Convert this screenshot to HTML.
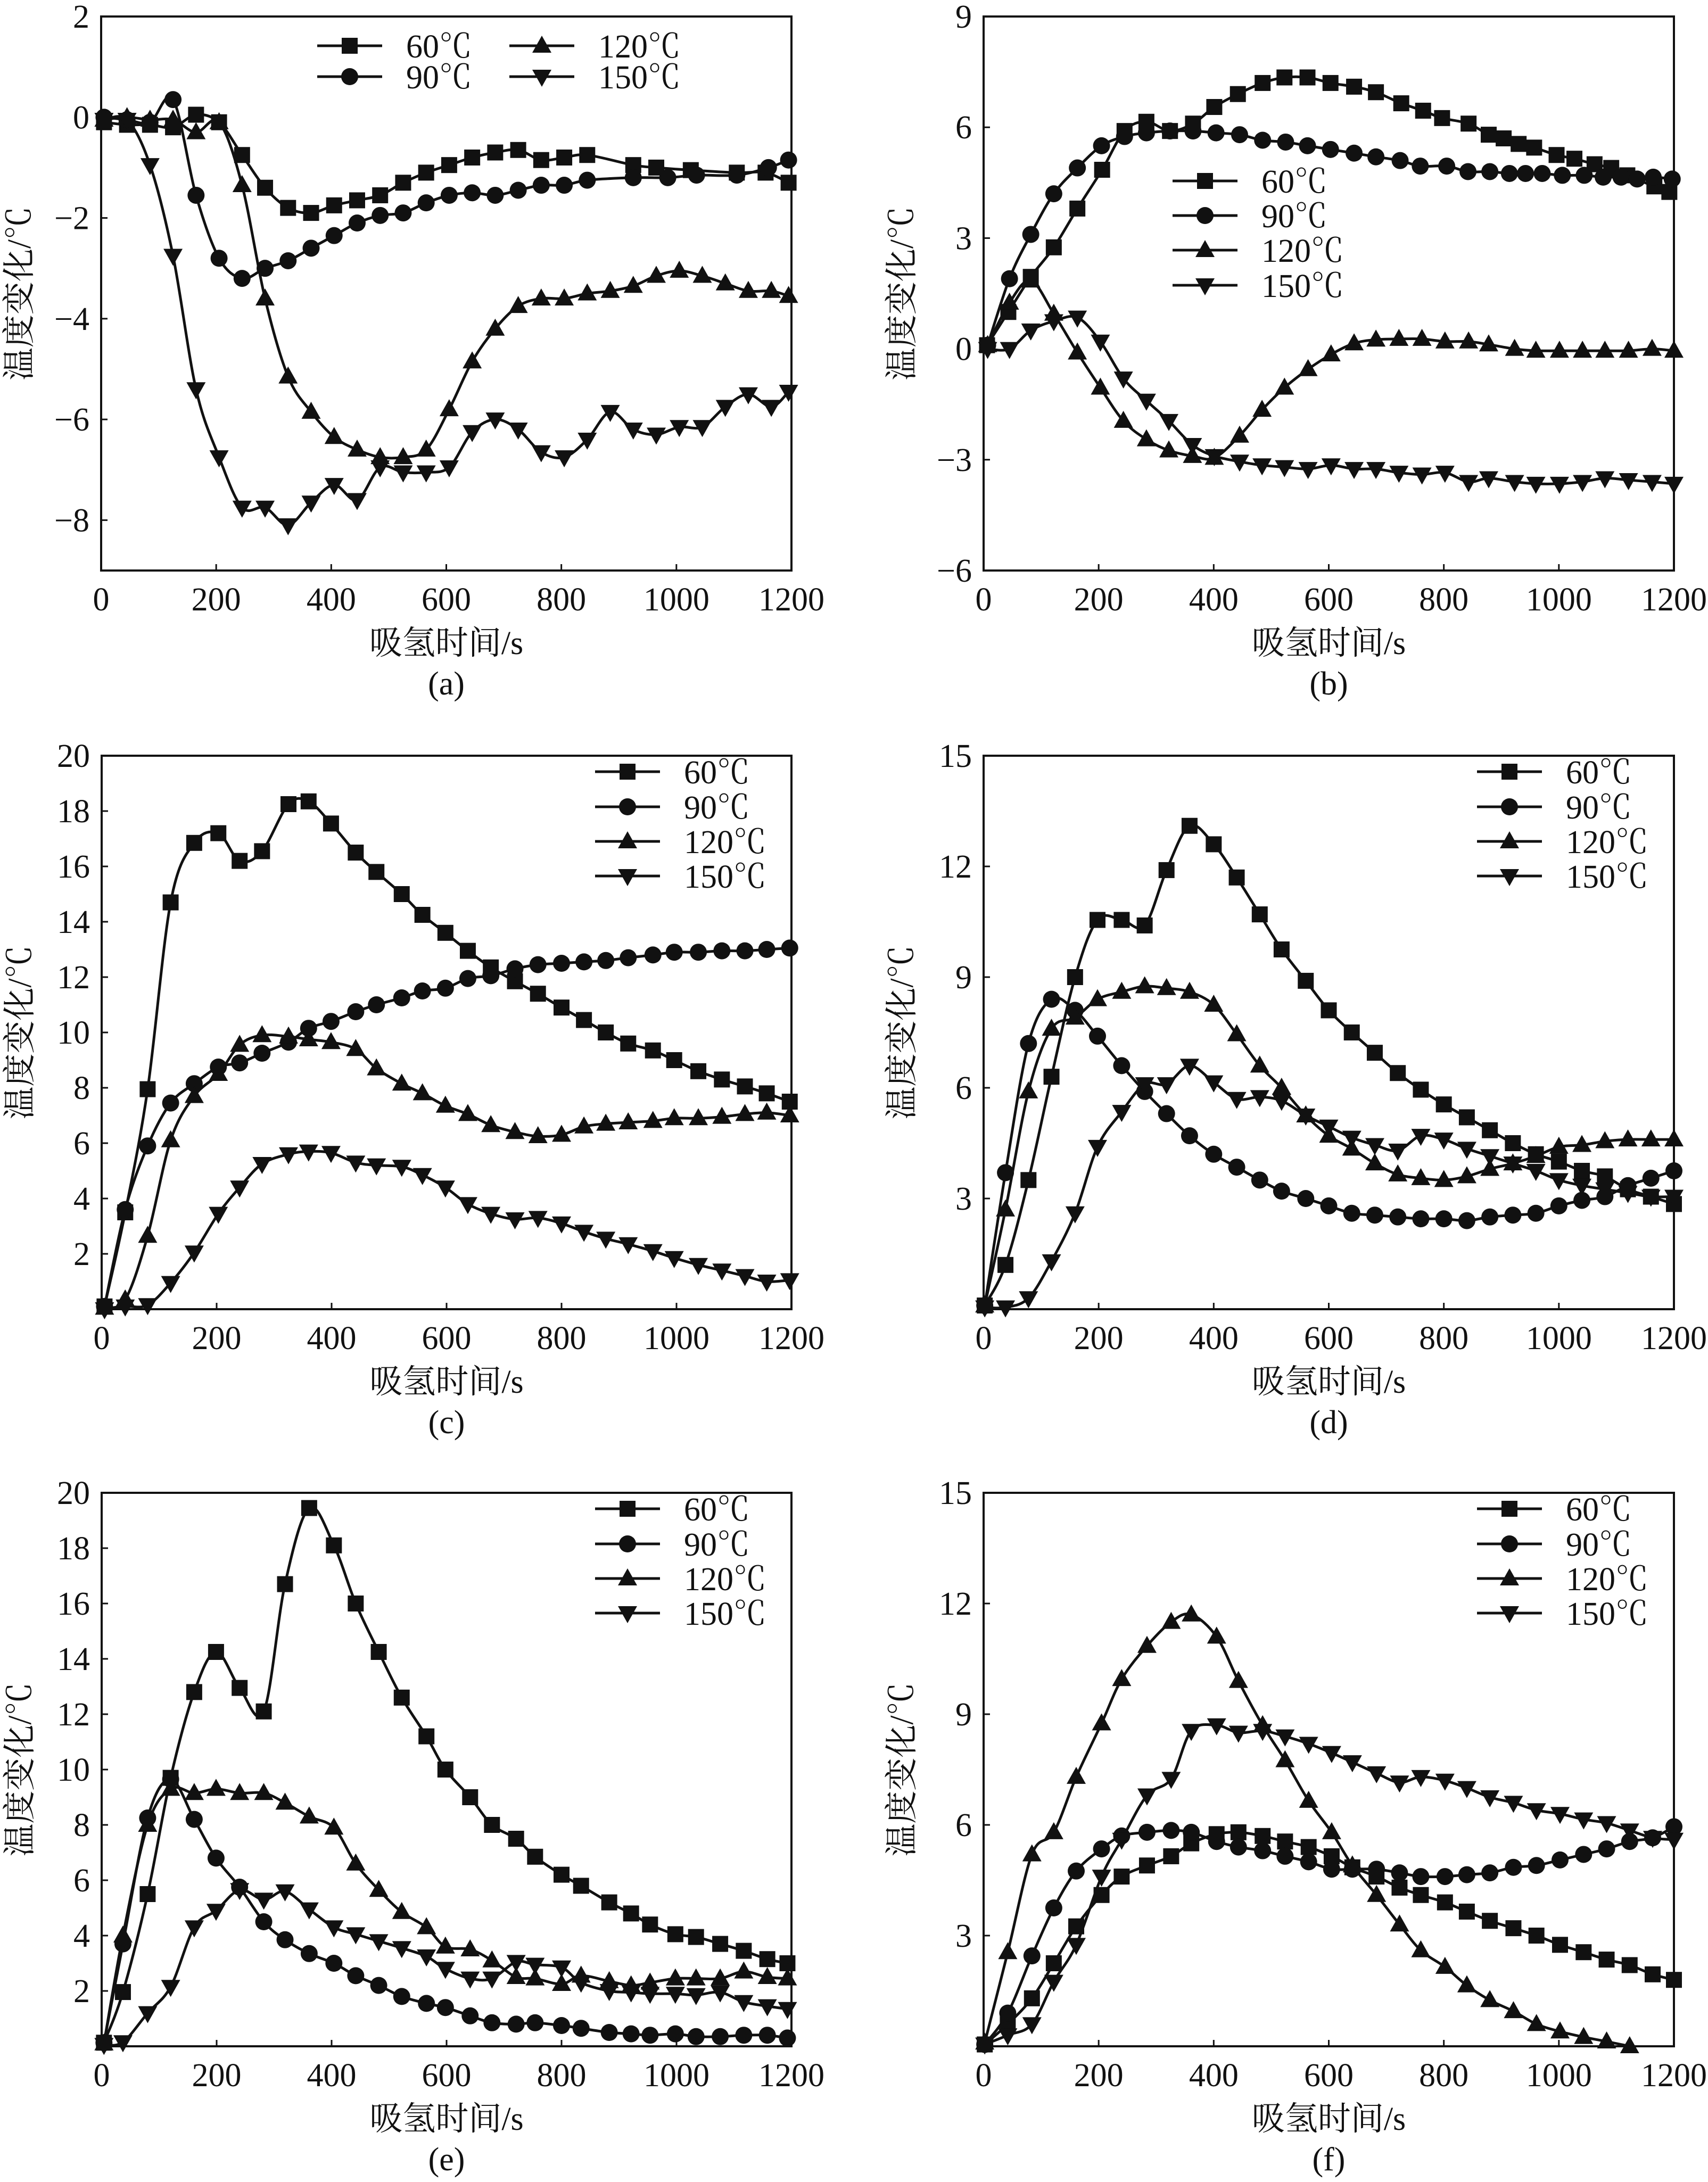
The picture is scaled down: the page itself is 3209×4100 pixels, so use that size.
<!DOCTYPE html>
<html>
<head>
<meta charset="utf-8">
<style>
  html, body { margin: 0; padding: 0; background: #fff; }
  svg { display: block; }
  text { font-family: "Liberation Serif", "Noto Serif CJK SC", serif; fill: #111; }
  .cjk { font-family: "Liberation Serif", "Noto Serif CJK SC", "Noto Sans CJK SC", serif; }
</style>
</head>
<body>
<svg id="fig" xmlns="http://www.w3.org/2000/svg" width="3209" height="4100" viewBox="0 0 3209 4100"></svg>
<script>
// ---------- Panel (a) data ----------
const aT60 = [5,45,85,125,165,205,245,285,325,365,405,445,485,525,565,605,645,685,725,765,805,845,925,965,1025,1105,1155,1195];
const aV60 = [-0.1,-0.15,-0.15,-0.2,0.05,-0.1,-0.75,-1.4,-1.8,-1.9,-1.75,-1.65,-1.55,-1.3,-1.1,-0.95,-0.8,-0.7,-0.65,-0.85,-0.8,-0.75,-0.95,-1.0,-1.05,-1.1,-1.1,-1.3];
const aT90 = [5,45,85,125,165,205,245,285,325,365,405,445,485,525,565,605,645,685,725,765,805,845,925,985,1035,1105,1160,1195];
const aV90 = [0,-0.05,-0.1,0.35,-1.55,-2.8,-3.2,-3.0,-2.85,-2.6,-2.35,-2.1,-1.95,-1.9,-1.7,-1.55,-1.5,-1.55,-1.45,-1.35,-1.35,-1.25,-1.2,-1.2,-1.15,-1.15,-1.0,-0.85];
const aT = [5,45,85,125,165,205,245,285,325,365,405,445,485,525,565,605,645,685,725,765,805,845,885,925,965,1005,1045,1085,1125,1165,1195];
const aV120 = [-0.05,0,-0.05,-0.05,-0.3,-0.1,-1.35,-3.6,-5.15,-5.85,-6.35,-6.6,-6.75,-6.75,-6.6,-5.8,-4.85,-4.2,-3.75,-3.6,-3.6,-3.5,-3.45,-3.35,-3.15,-3.05,-3.15,-3.3,-3.45,-3.45,-3.55];
const aV150 = [-0.05,-0.05,-0.95,-2.75,-5.4,-6.75,-7.75,-7.75,-8.1,-7.65,-7.3,-7.6,-6.95,-7.05,-7.05,-6.95,-6.25,-6.0,-6.2,-6.65,-6.75,-6.4,-5.85,-6.2,-6.3,-6.15,-6.15,-5.75,-5.5,-5.75,-5.45];
const aYTicks = [2,0,-2,-4,-6,-8];

// ---------- Panel (b) data ----------
const bT60 = [6,43,82,122,163,206,245,283,324,364,401,442,485,523,563,603,644,682,726,764,797,843,878,904,930,957,996,1027,1062,1091,1119,1166,1192];
const bV60 = [0.1,1.0,1.95,2.75,3.8,4.85,5.9,6.15,5.9,6.1,6.55,6.9,7.2,7.35,7.35,7.2,7.1,6.95,6.65,6.45,6.25,6.1,5.8,5.7,5.55,5.45,5.25,5.15,5.0,4.9,4.7,4.4,4.25];
const bT90 = [7,45,82,122,163,205,245,283,324,364,404,445,485,525,563,603,644,682,724,759,805,842,880,914,942,971,1006,1044,1077,1108,1136,1164,1197];
const bV90 = [0.1,1.9,3.1,4.2,4.9,5.5,5.75,5.85,5.9,5.9,5.85,5.8,5.65,5.6,5.5,5.4,5.3,5.2,5.1,4.95,4.95,4.8,4.8,4.75,4.75,4.75,4.7,4.7,4.65,4.65,4.6,4.65,4.6];
const bT = [7,45,82,122,163,203,243,283,322,363,401,445,484,523,564,604,644,682,722,762,802,843,878,923,960,1001,1041,1080,1121,1162,1200];
const bV120 = [0.1,1.25,1.85,0.95,-0.1,-1.05,-1.95,-2.45,-2.75,-2.9,-2.95,-2.35,-1.65,-1.05,-0.55,-0.15,0.15,0.25,0.27,0.27,0.2,0.2,0.12,0,-0.05,-0.05,-0.05,-0.05,-0.05,0,-0.05];
const bV150 = [0,0,0.5,0.75,0.85,0.2,-0.8,-1.4,-1.95,-2.6,-2.9,-3.05,-3.15,-3.2,-3.25,-3.15,-3.25,-3.25,-3.35,-3.4,-3.35,-3.6,-3.5,-3.6,-3.65,-3.65,-3.6,-3.5,-3.55,-3.6,-3.65];
const bYTicks = [9,6,3,0,-3,-6];

// ---------- Panel (c) data ----------
const cT = [5,41,80,120,161,203,240,279,325,360,399,442,478,522,558,598,637,677,719,759,800,839,877,916,959,996,1038,1079,1119,1157,1197];
const cV60 = [0.1,3.5,7.95,14.7,16.85,17.2,16.2,16.55,18.25,18.35,17.55,16.5,15.8,15.0,14.25,13.6,12.95,12.35,11.85,11.4,10.9,10.45,10.0,9.6,9.35,9.0,8.6,8.3,8.05,7.8,7.5];
const cV90 = [0.1,3.6,5.9,7.45,8.15,8.75,8.9,9.25,9.65,10.15,10.4,10.75,11.0,11.25,11.5,11.6,11.95,12.05,12.3,12.45,12.5,12.55,12.6,12.7,12.8,12.9,12.9,12.95,12.95,13.0,13.05];
const cV120 = [0.05,0.35,2.65,6.1,7.7,8.5,9.55,9.9,9.85,9.75,9.65,9.4,8.7,8.15,7.8,7.35,7.05,6.65,6.4,6.25,6.3,6.6,6.7,6.75,6.8,6.9,6.9,6.95,7.05,7.1,7.0];
const cV150 = [0,0.1,0.15,0.95,2.05,3.45,4.4,5.25,5.6,5.7,5.65,5.3,5.2,5.15,4.85,4.4,3.8,3.45,3.25,3.3,3.1,2.8,2.55,2.35,2.1,1.85,1.6,1.4,1.2,1.0,1.05];
const cYTicks = [2,4,6,8,10,12,14,16,18,20];

// ---------- Panel (d) data ----------
const dT = [2,38,78,118,159,198,240,280,318,358,400,440,480,518,560,600,640,680,720,760,800,840,880,920,960,1000,1040,1080,1120,1160,1200];
const dV60 = [0.1,1.2,3.5,6.3,9.0,10.55,10.55,10.4,11.9,13.1,12.6,11.7,10.7,9.75,8.9,8.1,7.5,6.95,6.4,5.95,5.55,5.2,4.85,4.5,4.2,4.0,3.75,3.6,3.25,3.05,2.85];
const dV90 = [0.1,3.7,7.2,8.4,8.1,7.4,6.6,5.9,5.3,4.7,4.2,3.85,3.5,3.2,3.0,2.8,2.6,2.55,2.5,2.45,2.45,2.4,2.5,2.55,2.6,2.8,2.95,3.05,3.35,3.55,3.75];
const dV120 = [0.1,2.7,5.9,7.6,7.9,8.4,8.6,8.75,8.7,8.6,8.25,7.45,6.6,6.0,5.25,4.7,4.35,3.95,3.65,3.55,3.5,3.6,3.8,3.95,4.15,4.4,4.45,4.55,4.6,4.6,4.6];
const dV150 = [0.05,0.05,0.3,1.3,2.6,4.4,5.35,6.1,6.1,6.6,6.15,5.7,5.75,5.65,5.25,4.95,4.65,4.45,4.3,4.7,4.6,4.35,4.15,3.95,3.75,3.5,3.35,3.25,3.15,3.05,3.05];
const dYTicks = [3,6,9,12,15];

// ---------- Panel (e) data ----------
const eT = [4,37,80,120,161,199,240,282,319,361,404,442,482,522,565,598,641,679,721,754,800,834,883,921,954,998,1034,1076,1117,1158,1193];
const eV60 = [0.13,1.96,5.5,9.7,12.8,14.25,12.95,12.1,16.7,19.45,18.1,16.0,14.25,12.6,11.2,10.0,9.0,8.0,7.5,6.85,6.2,5.8,5.2,4.8,4.4,4.05,3.95,3.7,3.45,3.15,3.0];
const eV90 = [0.13,3.7,8.25,9.65,8.2,6.8,5.75,4.5,3.85,3.35,3.0,2.55,2.2,1.8,1.55,1.4,1.1,0.85,0.8,0.85,0.75,0.65,0.5,0.45,0.4,0.45,0.35,0.35,0.4,0.4,0.3];
const eV120 = [0.1,4.0,8.0,9.3,9.15,9.3,9.15,9.15,8.8,8.3,7.9,6.6,5.65,4.85,4.3,3.6,3.5,3.1,2.5,2.45,2.25,2.55,2.35,2.2,2.3,2.45,2.45,2.45,2.7,2.5,2.45];
const eV150 = [0.05,0.15,1.2,2.15,4.3,4.9,5.65,5.3,5.6,4.95,4.3,4.05,3.8,3.55,3.25,2.8,2.45,2.45,3.05,2.95,2.85,2.3,2.0,1.95,1.9,1.9,1.85,1.95,1.6,1.45,1.35];
const eYTicks = [2,4,6,8,10,12,14,16,18,20];

// ---------- Panel (f) data ----------
const fT = [2,42,84,122,161,205,240,284,326,361,405,443,485,524,565,605,641,683,723,760,802,840,880,921,961,1002,1043,1083,1123,1163,1200];
const fT120 = [2,42,84,122,161,205,240,284,326,361,405,443,485,524,565,605,641,683,723,760,802,840,880,921,961,1002,1043,1083,1123];
const fV60 = [0.05,0.6,1.3,2.25,3.25,4.1,4.6,4.9,5.15,5.5,5.75,5.8,5.7,5.55,5.4,5.15,4.85,4.6,4.3,4.1,3.9,3.65,3.4,3.2,3.0,2.75,2.55,2.35,2.2,1.95,1.8];
const fV90 = [0.05,0.9,2.45,3.75,4.75,5.35,5.7,5.8,5.85,5.8,5.55,5.4,5.3,5.15,5.0,4.8,4.8,4.8,4.7,4.6,4.6,4.65,4.7,4.85,4.9,5.05,5.2,5.35,5.55,5.65,5.95];
const fV120 = [0.1,2.55,5.2,5.8,7.3,8.75,9.95,10.85,11.5,11.7,11.1,9.9,8.7,7.75,6.65,5.8,4.9,4.1,3.3,2.6,2.15,1.65,1.25,0.95,0.6,0.4,0.25,0.13,0.0];
const fV150 = [0.05,0.3,0.6,1.75,2.75,4.6,5.6,6.8,7.25,8.55,8.7,8.5,8.55,8.4,8.2,7.95,7.7,7.4,7.15,7.3,7.2,7.0,6.75,6.6,6.4,6.3,6.15,6.05,5.85,5.65,5.6];
const fYTicks = [3,6,9,12,15];

const xTicks = [0,200,400,600,800,1000,1200];
const seriesLabels = ["60℃","90℃","120℃","150℃"];
const markerKinds = ["square","circle","up","down"];

const NS = "http://www.w3.org/2000/svg";
const svg = document.getElementById("fig");

function mk(tag, attrs, parent) {
  const e = document.createElementNS(NS, tag);
  for (const k in attrs) e.setAttribute(k, attrs[k]);
  (parent || svg).appendChild(e);
  return e;
}

function smoothPath(pts) {
  if (pts.length < 2) return "";
  let d = "M" + pts[0][0].toFixed(1) + "," + pts[0][1].toFixed(1);
  for (let i = 0; i < pts.length - 1; i++) {
    const p0 = pts[i - 1] || pts[i], p1 = pts[i], p2 = pts[i + 1], p3 = pts[i + 2] || p2;
    const c1x = p1[0] + (p2[0] - p0[0]) / 6, c1y = p1[1] + (p2[1] - p0[1]) / 6;
    const c2x = p2[0] - (p3[0] - p1[0]) / 6, c2y = p2[1] - (p3[1] - p1[1]) / 6;
    d += " C" + c1x.toFixed(1) + "," + c1y.toFixed(1) + " " + c2x.toFixed(1) + "," + c2y.toFixed(1) + " " + p2[0].toFixed(1) + "," + p2[1].toFixed(1);
  }
  return d;
}

function marker(kind, x, y, g) {
  let e;
  if (kind === "square") {
    e = mk("rect", {x: x - 15, y: y - 15, width: 30, height: 30, fill: "#111"}, g);
  } else if (kind === "circle") {
    e = mk("circle", {cx: x, cy: y, r: 16, fill: "#111"}, g);
  } else if (kind === "up") {
    e = mk("polygon", {points: (x) + "," + (y - 19) + " " + (x - 18) + "," + (y + 13) + " " + (x + 18) + "," + (y + 13), fill: "#111"}, g);
  } else {
    e = mk("polygon", {points: (x) + "," + (y + 19) + " " + (x - 18) + "," + (y - 13) + " " + (x + 18) + "," + (y - 13), fill: "#111"}, g);
  }
  return e;
}

function panel(cfg) {
  const g = mk("g", {});
  
  
  const L = cfg.L, R = cfg.R, T = cfg.T, B = cfg.B;
  const xs = v => L + (v - 0) / 1200 * (R - L);
  const ys = v => B - (v - cfg.ymin) / (cfg.ymax - cfg.ymin) * (B - T);

  // series lines
  for (let s = 0; s < cfg.series.length; s++) {
    const sr = cfg.series[s];
    const pts = sr.t.map((t, i) => [xs(t), ys(sr.v[i])]);
    const sg = mk("g", {}, g);
    
    
    const p = mk("path", {d: smoothPath(pts), fill: "none", stroke: "#111", "stroke-width": 5, "stroke-linejoin": "round"}, sg);
    
    
    for (const pt of pts) {
      const m = marker(markerKinds[s], pt[0], pt[1], sg);
      
      
    }
  }

  // axes box
  const box = mk("rect", {x: L, y: T, width: R - L, height: B - T, fill: "none", stroke: "#111", "stroke-width": 4}, g);
  
  

  // x ticks
  for (const xt of xTicks) {
    const x = xs(xt);
    const tk = mk("line", {x1: x, y1: B, x2: x, y2: B - 12, stroke: "#111", "stroke-width": 3}, g);
    
    
    const tl = mk("text", {x: x, y: B + 75, "font-size": 62, "text-anchor": "middle"}, g);
    tl.textContent = String(xt);
    
    
  }
  // y ticks
  for (const yt of cfg.yTicks) {
    const y = ys(yt);
    const tk = mk("line", {x1: L, y1: y, x2: L + 12, y2: y, stroke: "#111", "stroke-width": 3}, g);
    
    
    const tl = mk("text", {x: L - 22, y: y + 21, "font-size": 62, "text-anchor": "end"}, g);
    tl.textContent = yt < 0 ? "\u2212" + Math.abs(yt) : String(yt);
    
    
  }
  // axis titles
  const xl = mk("text", {x: (L + R) / 2, y: B + 157, "font-size": 62, "text-anchor": "middle", class: "cjk"}, g);
  xl.textContent = "吸氢时间/s";
  
  
  const cy = (T + B) / 2, cx = L - 155;
  const yl = mk("text", {x: cx, y: cy + 22, "font-size": 62, "text-anchor": "middle", class: "cjk", transform: "rotate(-90 " + cx + " " + cy + ")"}, g);
  yl.textContent = "温度变化/℃";
  
  
  const sl = mk("text", {x: (L + R) / 2, y: B + 233, "font-size": 62, "text-anchor": "middle"}, g);
  sl.textContent = "(" + cfg.id + ")";
  
  

  // legend
  const lg = mk("g", {}, g);
  
  
  for (let s = 0; s < 4; s++) {
    const pos = cfg.legend[s];
    const eg = mk("g", {}, lg);
    
    
    mk("line", {x1: pos[0], y1: pos[1], x2: pos[0] + 122, y2: pos[1], stroke: "#111", "stroke-width": 5}, eg);
    marker(markerKinds[s], pos[0] + 61, pos[1], eg);
    const t = mk("text", {x: pos[0] + 167, y: pos[1] + 22, "font-size": 62, class: "cjk"}, eg);
    t.textContent = seriesLabels[s];
  }
}

function stdLegend(L, T) {
  return [[L + 927, T + 30], [L + 927, T + 96], [L + 927, T + 161], [L + 927, T + 226]];
}

panel({id: "a", L: 190, R: 1487, T: 31, B: 1072, ymin: -9, ymax: 2, yTicks: aYTicks,
  series: [{t: aT60, v: aV60}, {t: aT90, v: aV90}, {t: aT, v: aV120}, {t: aT, v: aV150}],
  legend: [[596, 86], [596, 144], [957, 86], [957, 144]]});
panel({id: "b", L: 1848, R: 3145, T: 31, B: 1072, ymin: -6, ymax: 9, yTicks: bYTicks,
  series: [{t: bT60, v: bV60}, {t: bT90, v: bV90}, {t: bT, v: bV120}, {t: bT, v: bV150}],
  legend: [[2203, 340], [2203, 405], [2203, 470], [2203, 536]]});
panel({id: "c", L: 191, R: 1487, T: 1420, B: 2460, ymin: 0, ymax: 20, yTicks: cYTicks,
  series: [{t: cT, v: cV60}, {t: cT, v: cV90}, {t: cT, v: cV120}, {t: cT, v: cV150}],
  legend: stdLegend(191, 1420)});
panel({id: "d", L: 1848, R: 3145, T: 1420, B: 2460, ymin: 0, ymax: 15, yTicks: dYTicks,
  series: [{t: dT, v: dV60}, {t: dT, v: dV90}, {t: dT, v: dV120}, {t: dT, v: dV150}],
  legend: stdLegend(1848, 1420)});
panel({id: "e", L: 191, R: 1487, T: 2805, B: 3845, ymin: 0, ymax: 20, yTicks: eYTicks,
  series: [{t: eT, v: eV60}, {t: eT, v: eV90}, {t: eT, v: eV120}, {t: eT, v: eV150}],
  legend: stdLegend(191, 2805)});
panel({id: "f", L: 1848, R: 3145, T: 2805, B: 3845, ymin: 0, ymax: 15, yTicks: fYTicks,
  series: [{t: fT, v: fV60}, {t: fT, v: fV90}, {t: fT120, v: fV120}, {t: fT, v: fV150}],
  legend: stdLegend(1848, 2805)});
</script>
</body>
</html>
